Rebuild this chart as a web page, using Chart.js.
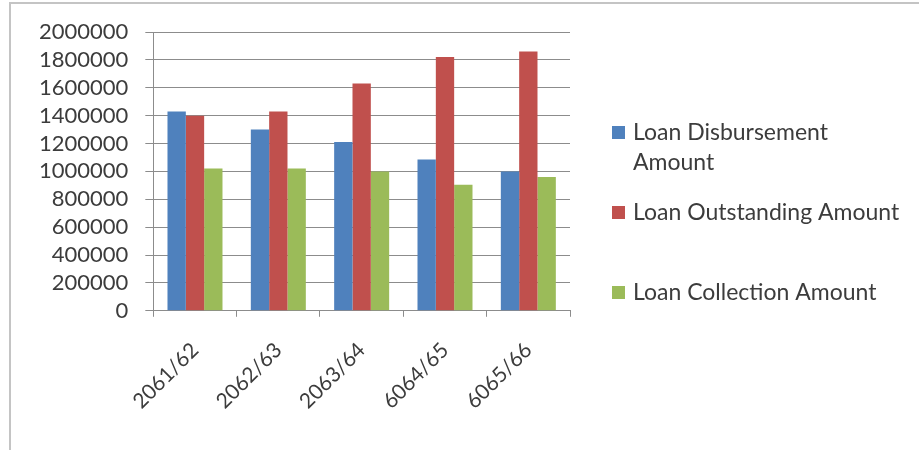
<!DOCTYPE html>
<html>
<head>
<meta charset="utf-8">
<script src="https://cdn.jsdelivr.net/npm/chart.js@4.4.1/dist/chart.umd.min.js"></script>
<style>
  html, body { margin: 0; padding: 0; background: #fff; }
  #wrap { position: relative; width: 919px; height: 450px; }
</style>
</head>
<body>
<div id="wrap"><canvas id="myChart" width="919" height="450"></canvas></div>
<script>
// loan figures per fiscal year
var years = ["2061/62", "2062/63", "2063/64", "6064/65", "6065/66"];
var disbursement = [1430000, 1300000, 1210000, 1085000, 1000000];
var outstanding = [1400000, 1430000, 1630000, 1820000, 1860000];
var collection = [1020000, 1020000, 1000000, 905000, 960000];

var seriesNames = ["Loan Disbursement Amount", "Loan Outstanding Amount", "Loan Collection Amount"];
var seriesColors = ['#4F81BD', '#C0504D', '#9BBB59'];

var textColor = '#3c3c3c';
var gridColor = '#8c8c8c';
var fontFamily = 'Lato, "Open Sans", sans-serif';

// thin frame on top/left edge + white background
var framePlugin = {
    id: 'frame',
    beforeDraw: function(chart) {
        var c = chart.ctx;
        c.save();
        c.fillStyle = '#fff';
        c.fillRect(0, 0, chart.width, chart.height);
        c.strokeStyle = '#c4c4c4';
        c.lineWidth = 2;
        c.beginPath();
        c.moveTo(10, chart.height);
        c.lineTo(10, 3);
        c.lineTo(chart.width, 3);
        c.stroke();
        c.restore();
    }
};

// legend drawn to the right of the plot, first name wrapped onto two lines
var sideLegend = {
    id: 'sideLegend',
    afterDraw: function(chart) {
        var c = chart.ctx;
        var area = chart.chartArea;
        var boxX = area.right + 42;
        var textX = area.right + 63;
        var top = 32;
        c.save();
        c.font = '23px ' + fontFamily;
        c.textBaseline = 'alphabetic';
        c.textAlign = 'left';
        chart.data.datasets.forEach(function(ds, i) {
            var base = top + 108 + i * 80;
            var lines = [ds.label];
            if (i === 0) {
                var cut = ds.label.lastIndexOf(' ');
                lines = [ds.label.slice(0, cut), ds.label.slice(cut + 1)];
            }
            c.fillStyle = ds.backgroundColor;
            c.fillRect(boxX, base - 14, 13, 13);
            c.fillStyle = textColor;
            lines.forEach(function(t, k) {
                c.fillText(t, textX, base + k * 30);
            });
        });
        c.restore();
    }
};

var data = {
    labels: years,
    datasets: [
        { label: seriesNames[0], data: disbursement, backgroundColor: seriesColors[0] },
        { label: seriesNames[1], data: outstanding, backgroundColor: seriesColors[1] },
        { label: seriesNames[2], data: collection, backgroundColor: seriesColors[2] }
    ]
};

var ctx = document.getElementById("myChart");
var myChart = new Chart(ctx, {
    type: 'bar',
    data: data,
    plugins: [framePlugin, sideLegend],
    options: {
        responsive: false,
        animation: false,
        devicePixelRatio: 1,
        layout: {
            padding: { left: 22, top: 32, right: 349, bottom: 15 }
        },
        datasets: {
            bar: { categoryPercentage: 0.66, barPercentage: 1.0 }
        },
        scales: {
            x: {
                grid: { drawOnChartArea: false, drawTicks: true, tickLength: 6, color: gridColor },
                border: { color: gridColor, width: 1 },
                ticks: {
                    color: textColor,
                    font: { family: fontFamily, size: 21 },
                    minRotation: 45,
                    maxRotation: 45,
                    padding: 21
                }
            },
            y: {
                min: 0,
                max: 2000000,
                grid: { color: gridColor, tickLength: 8, lineWidth: 1 },
                border: { color: gridColor, width: 1 },
                ticks: {
                    stepSize: 200000,
                    autoSkip: false,
                    color: textColor,
                    font: { family: fontFamily, size: 22 },
                    padding: 17,
                    callback: function(v) { return String(v); }
                }
            }
        },
        plugins: {
            tooltip: { enabled: false },
            legend: { display: false }
        }
    }
});
</script>
</body>
</html>
